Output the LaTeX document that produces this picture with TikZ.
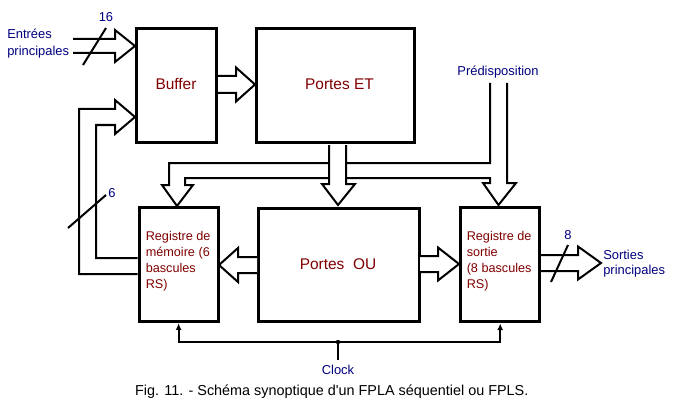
\documentclass[tikz,border=0pt]{standalone}
\usepackage{fontspec}
\setmainfont{Liberation Sans}
\usetikzlibrary{arrows.meta}
\definecolor{navyc}{HTML}{000080}
\definecolor{maroonc}{HTML}{800000}
\tikzset{
  blockbox/.style={draw=black, line width=2.25pt, inner sep=0pt, rectangle},
  bigtitle/.style={text=maroonc, font=\fontsize{11.6}{14}\selectfont, inner sep=0pt},
  regtext/.style={text=maroonc, font=\fontsize{9.5}{12}\selectfont, align=left, inner sep=0pt, anchor=west},
  bluelabel/.style={text=navyc, font=\fontsize{9.7}{12}\selectfont, inner sep=0pt},
  wire/.style={draw=black, line width=1.5pt, line join=miter},
  hollow/.style={wire, fill=white},
}
% hollow arrow: start x, center y, head base x, tip x, shaft half, head half
\newcommand\hollowArrow[6]{%
  \draw[hollow] (#1,#2-#5) -- (#3,#2-#5) -- (#3,#2-#6) -- (#4,#2) -- (#3,#2+#6) -- (#3,#2+#5) -- (#1,#2+#5);}
\begin{document}
\begin{tikzpicture}[x=0.75pt,y=-0.75pt]
\useasboundingbox[fill=white] (0,0) rectangle (673,406);

% blocks
\node[blockbox, minimum width=60pt, minimum height=85.5pt] (buf) at (176.5,85.5) {};
\node[blockbox, minimum width=118.5pt, minimum height=85.5pt] (et) at (335.6,85.5) {};
\node[blockbox, minimum width=59.1pt, minimum height=85.7pt] (mem) at (178.6,264.6) {};
\node[blockbox, minimum width=120.75pt, minimum height=84.75pt] (ou) at (338.5,265.3) {};
\node[blockbox, minimum width=59.25pt, minimum height=85.9pt] (sor) at (500.2,264.7) {};

\node[bigtitle] (buft) at (176,84) {Buffer};
\node[bigtitle] (ett) at (339.5,84) {Portes ET};
\node[bigtitle] (out) at (338,264.5) {Portes\ \ OU};
\node[regtext] (memt) at (145.5,261) {Registre de\\mémoire (6\\bascules\\RS)};
\node[regtext] (sort) at (466.5,261) {Registre de\\sortie\\(8 bascules\\RS)};

% labels
\node[bluelabel, align=left, anchor=west, font=\fontsize{9.7}{12.6}\selectfont] (entrees) at (7,43.5) {Entrées\\principales};
\node[bluelabel, align=left, anchor=west, font=\fontsize{9.7}{11.5}\selectfont] (sorties) at (603,263.5) {Sorties\\principales};
\node[bluelabel] (predis) at (498,72) {Prédisposition};
\node[bluelabel] (n16) at (106,17) {16};
\node[bluelabel] (n6) at (112,193) {6};
\node[bluelabel] (n8) at (568,235) {8};
\node[bluelabel] (clock) at (338,370) {Clock};
\node[inner sep=0pt, font=\fontsize{10.8}{13}\selectfont] (caption) at (331.7,391.5) {Fig. 11. - Schéma synoptique d\textquotesingle un FPLA séquentiel ou FPLS.};

% input arrow
\hollowArrow{73}{46}{115}{135}{7}{16}
\draw[wire] (83,65) -- (106,28);

% buffer -> portes ET
\hollowArrow{218}{84.5}{236}{255}{8.5}{17}

% feedback from memory register into buffer
\draw[wire] (mem.west |- 0,274) -- (79,274) -- (79,109) -- (115,109) -- (115,100) -- (135,117)
  -- (115,134) -- (115,125) -- (96,125) -- (96,258) -- (mem.west |- 0,258);
\draw[wire] (68,228) -- (106,195);

% bus from predisposition
\draw[wire] (490,83) -- (490,163) -- (169,163) -- (169,185) -- (162,185) -- (177,206) -- (193,185)
  -- (185,185) -- (185,178) -- (490,178) -- (490,183) -- (483,183) -- (498.5,205) -- (516,183)
  -- (507,183) -- (507,83);

% portes ET -> portes OU
\draw[hollow] (329,145) -- (329,184) -- (322,184) -- (338,205) -- (355,184) -- (346,184) -- (346,145);

% portes OU -> registers
\hollowArrow{257}{265}{238}{219}{8}{17}
\hollowArrow{420}{264}{438}{459}{8}{16.5}

% sortie -> outputs
\hollowArrow{541}{263}{578}{601}{8}{16.5}
\draw[wire] (551,282) -- (568,245);

% clock
\coordinate (clkdot) at (338,342);
\draw[line width=1.5pt, -{Latex[length=5pt,width=4.5pt]}] (clkdot) -| (mem.south);
\draw[line width=1.5pt, -{Latex[length=5pt,width=4.5pt]}] (clkdot) -| (sor.south);
\draw[line width=1.5pt] (clkdot) -- (338,360);
\fill (clkdot) circle (2.2);
\end{tikzpicture}
\end{document}
